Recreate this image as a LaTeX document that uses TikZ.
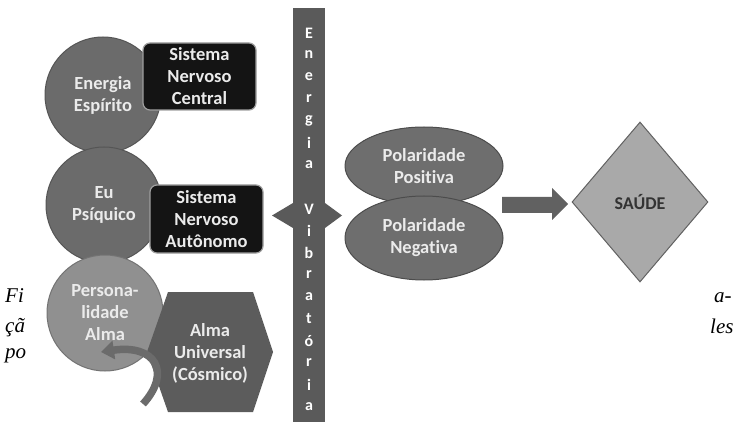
\documentclass[tikz,border=0pt]{standalone}
\usepackage{fontspec}
\setmainfont{Carlito}[Ligatures=NoCommon]
\newfontfamily\capfont{Liberation Serif}
\usetikzlibrary{shapes.geometric,arrows.meta}

\definecolor{circgray}{HTML}{6B6B6B}
\definecolor{circline}{HTML}{555555}
\definecolor{persgray}{HTML}{909090}
\definecolor{hexgray}{HTML}{5C5C5C}
\definecolor{bargray}{HTML}{5A5A5A}
\definecolor{elgray}{HTML}{6E6E6E}
\definecolor{diagray}{HTML}{A9A9A9}

\tikzset{
	lbl/.style={text=white!92!black, font=\bfseries\fontsize{18.5}{22}\selectfont, align=center},
	bigcirc/.style={circle, draw=circline, line width=1pt, fill=circgray, minimum size=116pt, inner sep=0pt, lbl},
	nervbox/.style={rectangle, rounded corners=7pt, fill=black!92, draw=gray!75, line width=1.2pt, minimum width=113pt, inner sep=0pt, lbl},
	polel/.style={ellipse, draw=black!70, line width=1pt, fill=elgray, minimum width=158pt, inner sep=0pt, lbl},
	capt/.style={anchor=base west, inner sep=0pt, font=\capfont\itshape\fontsize{21}{21}\selectfont}
}

\begin{document}
\begin{tikzpicture}[x=1pt,y=-1pt]
			\useasboundingbox (0,0) rectangle (736,422);

			%%caption pieces behind the diagram
			\node[capt] (capa) at (5,302){Fi};
			\node[capt] (capb) at (5,332){çã};
			\node[capt] (capc) at (5,358){po};
			\node[capt] (capd) at (714,302){a-};
			\node[capt] (cape) at (710,333){les};

			%%draw the circles and boxes
			\node[bigcirc] (espirito) at (103,95){Energia\\Espírito};
			\node[nervbox, minimum height=67pt] (snc) at (199.5,76.5){Sistema\\Nervoso\\Central};

			\node[bigcirc] (psiquico) at (104,205){Eu\\Psíquico};
			\node[nervbox, minimum height=68pt] (sna) at (206.5,219){Sistema\\Nervoso\\Autônomo};

			\node[bigcirc, fill=persgray, draw=black!55] (pers) at (105,313){Persona-\\lidade\\Alma};

			%%the hexagon
			\fill[hexgray] (147,352) -- (168,292) -- (253,292) -- (273,352) -- (253,412) -- (168,412) -- cycle;
			\node[lbl] (cosmico) at (210,353){Alma\\Universal\\(Cósmico)};

			%%curved arrow back into the personality
			\coordinate (arrtail) at (143,404);
			\coordinate (arrtip) at (101,352);
			\draw[line width=7.5pt, draw=black!58, -{Triangle[length=13pt,width=18pt]}]
				(arrtail) .. controls (172,372) and (155,344) .. (arrtip);

			%%the vertical bar
			\fill[bargray] (293,8) rectangle (325,422);
			\fill[bargray] (293,203) -- (272,215.5) -- (293,228) -- cycle;
			\fill[bargray] (325,203) -- (342,215.5) -- (325,228) -- cycle;
			\foreach \ch [count=\k from 0] in {E,n,e,r,g,i,a,{},V,i,b,r,a,t,ó,r,i,a}
				\node[text=white, font=\bfseries\fontsize{16}{16}\selectfont, inner sep=0pt] (vib\k) at (309,33+22*\k){\ch};

			%%the polarities
			\node[polel, minimum height=78pt] (polpos) at (424,166){Polaridade\\Positiva};
			\node[polel, minimum height=84pt] (polneg) at (424,238){Polaridade\\Negativa};

			%%block arrow and health
			\fill[black!62] (502,197) -- (552,197) -- (552,188) -- (568,204) -- (552,220) -- (552,213) -- (502,213) -- cycle;
			\node[diamond, draw=black!62, line width=1pt, fill=diagray, minimum width=136pt, minimum height=160pt, inner sep=0pt,
				text=black!80, font=\bfseries\fontsize{18}{22}\selectfont] (saude) at (640,202){SAÚDE};
		\end{tikzpicture}
\end{document}
